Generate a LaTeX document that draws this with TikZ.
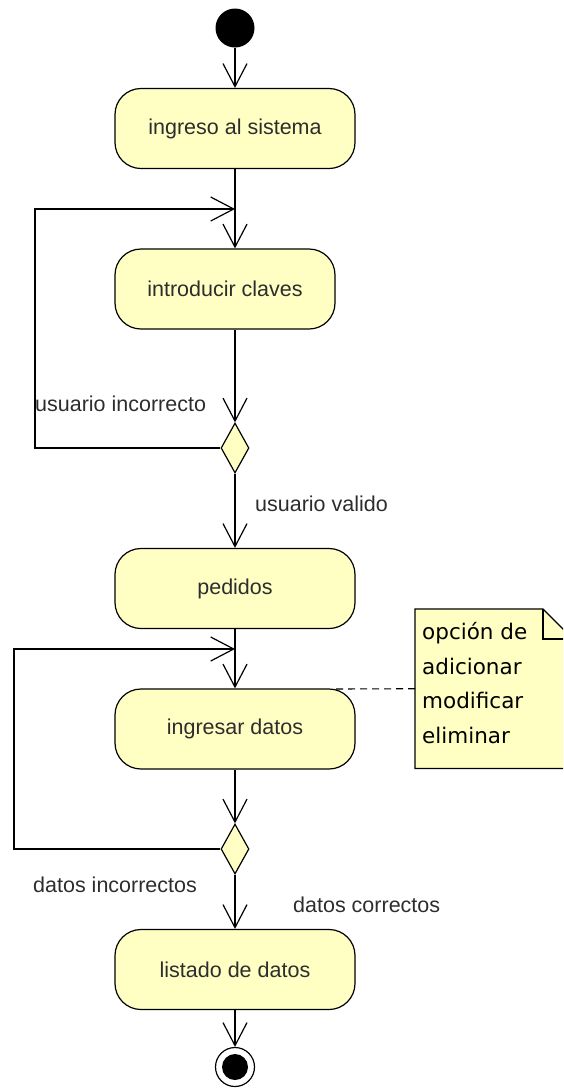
\documentclass[tikz,border=0pt]{standalone}
\usepackage{fontspec}
\setmainfont{Liberation Sans}
\newfontfamily\notefont{DejaVu Sans}
\usetikzlibrary{arrows.meta,shapes.geometric}
\definecolor{actfill}{RGB}{255,255,195}
\definecolor{lbl}{RGB}{45,45,45}
\tikzset{
  actbox/.style={draw, line width=1.2pt, fill=actfill, rounded corners=26pt,
    minimum width=240pt, minimum height=80pt, inner sep=0pt,
    font=\fontsize{21.5}{25}\selectfont, text=lbl},
  dec/.style={diamond, draw, line width=1.2pt, fill=actfill,
    minimum width=28pt, minimum height=50pt, inner sep=0pt},
  arr/.style={line width=1.2pt, -{Straight Barb[length=23pt,width=24pt]}},
  lab/.style={font=\fontsize{21.5}{25}\selectfont, text=lbl, inner sep=0pt, anchor=base west},
  notetxt/.style={font=\notefont\fontsize{21.5}{25}\selectfont, text=black, inner sep=0pt, anchor=base west},
  conn/.style={line width=1.2pt}
}
\begin{document}
\begin{tikzpicture}[x=1pt,y=-1pt]
\clip (0,0) rectangle (563,1088);
% nodes
\node[circle, fill=black, minimum size=39pt, inner sep=0pt] (start) at (235,28) {};
\node[actbox] (b1) at (235,128.5) {ingreso al sistema};
\node[actbox, minimum width=220pt] (b2) at (225,289) {introducir claves};
\node[dec] (d1) at (235,448) {};
\node[actbox] (b3) at (235,588.5) {pedidos};
\node[actbox] (b4) at (235,729) {ingresar datos};
\node[dec] (d2) at (235,849) {};
\node[actbox] (b5) at (235,969.5) {listado de datos};
\node[circle, draw, line width=1.2pt, fill=white, minimum size=39pt, inner sep=0pt] (end) at (235,1067) {};
\node[circle, fill=black, minimum size=26pt, inner sep=0pt] (endin) at (end.center) {};
% merge points
\coordinate (m1) at (235,209);
\coordinate (l1) at (35,448);
\coordinate (m2) at (235,649);
\coordinate (l2) at (14,849);
% connectors
\draw[arr] (start) -- (b1);
\draw[arr] (b1.south) -- (b1.south |- b2.north);
\draw[arr] (d1.west) -- (l1) |- (m1);
\draw[arr] (b2.south -| d1.north) -- (d1.north);
\draw[arr] (d1.south) -- (b3.north);
\draw[arr] (b3.south) -- (b4.north);
\draw[arr] (d2.west) -- (l2) |- (m2);
\draw[arr] (b4.south) -- (d2.north);
\draw[arr] (d2.south) -- (b5.north);
\draw[arr] (b5.south) -- (end.north);
% labels
\node[lab] (t1) at (35,411) {usuario incorrecto};
\node[lab] (t2) at (255,511) {usuario valido};
\node[lab] (t3) at (33,892) {datos incorrectos};
\node[lab] (t4) at (293,912) {datos correctos};
% note
\node[minimum width=158pt, minimum height=159pt, inner sep=0pt, anchor=north west] (note) at (415,609) {};
\filldraw[conn, fill=actfill] (note.north west) -- (543,609) -- (573,639) -- (note.south east) -- (note.south west) -- cycle;
\draw[conn] (543,609) -- (543,639) -- (573,639);
\node[notetxt] (n1) at (422,639.5) {opción de};
\node[notetxt] (n2) at (422,674) {adicionar};
\node[notetxt] (n3) at (422,708.5) {modificar};
\node[notetxt] (n4) at (422,743) {eliminar};
\coordinate (ds) at (336,689);
\draw[line width=1.1pt, dash pattern=on 7pt off 5pt] (ds) -- (note.west);
\end{tikzpicture}
\end{document}
